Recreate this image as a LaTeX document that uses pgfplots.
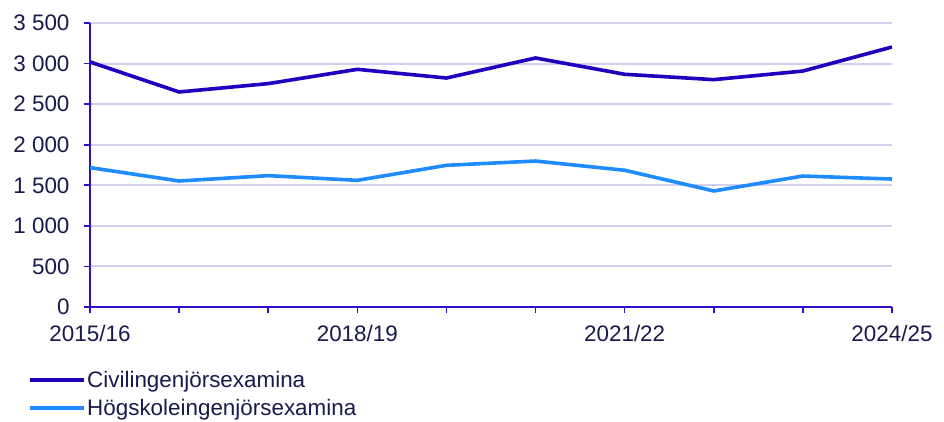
\documentclass[border=0pt]{standalone}
\usepackage{fontspec}
\setmainfont{Liberation Sans}
\usepackage{pgfplots}
\pgfplotsset{compat=1.18}
\definecolor{cdark}{HTML}{1E00BE}
\definecolor{clight}{HTML}{1E8CFF}
\definecolor{caxis}{HTML}{2A10C8}
\definecolor{cgrid}{HTML}{D0D0F0}
\definecolor{ctext}{HTML}{1A1A4A}
\begin{document}
\begin{tikzpicture}[x=1bp,y=1bp]
\useasboundingbox (-90,-114) rectangle (854,307);
\begin{axis}[
  at={(0,0)}, anchor=south west,
  scale only axis, width=802bp, height=284bp,
  xmin=0, xmax=9, ymin=0, ymax=3500,
  xtick={0,1,...,9},
  xticklabels={2015/16,,,2018/19,,,2021/22,,,2024/25},
  ytick={0,500,...,3500},
  axis x line*=bottom, axis y line*=left,
  axis line style={caxis, line width=2bp, -},
  tick style={caxis, line width=1.6bp},
  major tick length=6bp,
  xtick align=outside, ytick align=outside,
  ymajorgrids, grid style={cgrid, line width=2bp},
  /pgf/number format/assume math mode=true,
  /pgf/number format/1000 sep={\ },
  ticklabel style={font=\fontsize{22.5}{26}\selectfont, text=ctext},
  yticklabel style={xshift=-11bp},
  xticklabel style={yshift=-9bp},
  legend style={at={(-0.0773,-0.222)}, anchor=north west, draw=none, fill=none,
    inner sep=0pt, row sep=8.5bp, font=\fontsize{22.5}{26}\selectfont, text=ctext,
    nodes={inner sep=1bp}},
  legend cell align=left,
  legend image code/.code={\draw[#1, line width=4bp] (0bp,0bp) -- (54bp,0bp);},
]
\addplot[cdark, line width=3.6bp] coordinates {
(0,3020) (1,2650) (2,2753) (3,2929) (4,2822) (5,3069) (6,2868) (7,2802) (8,2908) (9,3204)};
\addlegendentry{Civilingenjörsexamina}
\addplot[clight, line width=3.6bp] coordinates {
(0,1718) (1,1553) (2,1619) (3,1561) (4,1746) (5,1799) (6,1685) (7,1430) (8,1614) (9,1577)};
\addlegendentry{Högskoleingenjörsexamina}
\end{axis}
\end{tikzpicture}
\end{document}
